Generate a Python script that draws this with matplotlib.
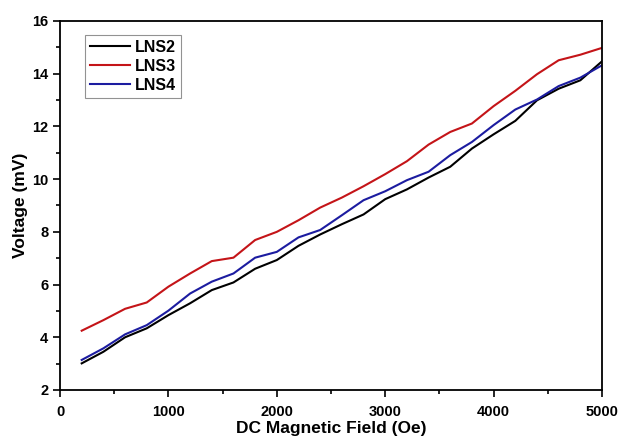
#!/usr/bin/env python3
# voltage vs DC magnetic field for the LNS samples
import matplotlib
matplotlib.use('Agg')
import matplotlib.pyplot as pl
from matplotlib import rc
from matplotlib.ticker import MultipleLocator

# field values (Oe)
field = [200, 400, 600, 800, 1000, 1200, 1400, 1600, 1800, 2000,
         2200, 2400, 2600, 2800, 3000, 3200, 3400, 3600, 3800, 4000,
         4200, 4400, 4600, 4800, 5000]

# voltage (mV) per sample
lns2 = [3.01, 3.45, 4.00, 4.34, 4.84, 5.29, 5.79, 6.08, 6.60, 6.93,
        7.47, 7.90, 8.29, 8.66, 9.24, 9.61, 10.06, 10.47, 11.16, 11.70,
        12.21, 12.99, 13.43, 13.75, 14.47]
lns3 = [4.25, 4.65, 5.08, 5.32, 5.92, 6.42, 6.89, 7.02, 7.69, 8.00,
        8.44, 8.92, 9.30, 9.73, 10.19, 10.68, 11.31, 11.79, 12.11, 12.77,
        13.35, 13.98, 14.51, 14.72, 14.98]
lns4 = [3.14, 3.58, 4.11, 4.46, 5.01, 5.66, 6.11, 6.42, 7.02, 7.24,
        7.79, 8.07, 8.63, 9.20, 9.54, 9.96, 10.28, 10.91, 11.41, 12.05,
        12.64, 13.02, 13.53, 13.85, 14.32]

rc('font', **{'family': 'sans-serif', 'sans-serif': ['Liberation Sans'],
              'weight': 'bold', 'size': 10.5})

fig = pl.figure(figsize=(6.2, 4.38), dpi=100)
# axes box: left spine ~60px, right ~602px, top ~21px, bottom ~390px
ax = fig.add_axes([0.0968, 0.1096, 0.8742, 0.8425])

ax.plot(field, lns2, color='black', lw=1.5, label='LNS2')
ax.plot(field, lns3, color='#c41418', lw=1.5, label='LNS3')
ax.plot(field, lns4, color='#1c1ca0', lw=1.5, label='LNS4')

ax.set_xlim(0, 5000)
ax.set_ylim(2, 16)
ax.xaxis.set_major_locator(MultipleLocator(1000))
ax.xaxis.set_minor_locator(MultipleLocator(500))
ax.yaxis.set_major_locator(MultipleLocator(2))
ax.yaxis.set_minor_locator(MultipleLocator(1))
ax.tick_params(which='both', direction='out', width=1.2)
ax.tick_params(which='major', length=5)
ax.tick_params(which='minor', length=3)
ax.tick_params(axis='x', which='major', pad=6)
for sp in ax.spines.values():
    sp.set_linewidth(1.3)

ax.set_xlabel('DC Magnetic Field (Oe)', fontsize=12.5, fontweight='bold', labelpad=1)
ax.set_ylabel('Voltage (mV)', fontsize=12.5, fontweight='bold', labelpad=3)

leg = ax.legend(loc='upper left', bbox_to_anchor=(0.046, 0.962), fancybox=False,
                fontsize=11.5, handlelength=2.5, handletextpad=0.35,
                labelspacing=0.25, borderpad=0.3, borderaxespad=0.0)
leg.get_frame().set_edgecolor('#777777')
leg.get_frame().set_linewidth(0.8)

fig.savefig('out.png', dpi=100)
